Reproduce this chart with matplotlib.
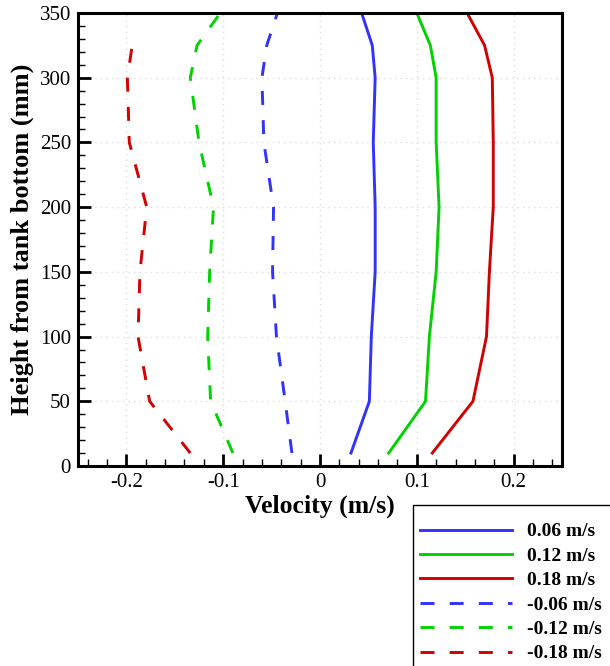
import numpy as np
import matplotlib.pyplot as plt
from matplotlib.ticker import MultipleLocator
from matplotlib.patches import Rectangle

# Heights of the measuring points (mm)
heights = [10, 50, 100, 150, 200, 250, 300, 325, 350]

# Velocity profiles (m/s)
pos_006 = [0.032, 0.051, 0.053, 0.057, 0.057, 0.055, 0.057, 0.054, 0.043]
pos_012 = [0.071, 0.109, 0.113, 0.120, 0.123, 0.120, 0.120, 0.114, 0.100]
pos_018 = [0.116, 0.158, 0.172, 0.175, 0.179, 0.179, 0.178, 0.170, 0.152]
neg_006 = [-0.029, -0.036, -0.045, -0.049, -0.048, -0.058, -0.060, -0.055, -0.044]
neg_012 = [-0.090, -0.113, -0.116, -0.114, -0.110, -0.125, -0.134, -0.127, -0.103]
neg_018 = [-0.134, -0.176, -0.188, -0.186, -0.179, -0.197, -0.199, -0.194]

labels = ["0.06 m/s", "0.12 m/s", "0.18 m/s", "-0.06 m/s", "-0.12 m/s", "-0.18 m/s"]
xtick_labels = ["-0.2", "-0.1", "0", "0.1", "0.2"]

BLUE = "#3232ff"
GREEN = "#00d200"
RED = "#d20000"

plt.rcParams['font.family'] = ['Liberation Serif', 'DejaVu Serif']

W, H = 610, 666
fig = plt.figure(figsize=(W / 100, H / 100), dpi=100)
ax = fig.add_axes([78 / W, 1 - 466 / H, 484 / W, 453 / H])

lw = 2.1
dash = (0, (4.8, 5.2))
ax.plot(pos_006, heights, color=BLUE, lw=lw, label=labels[0])
ax.plot(pos_012, heights, color=GREEN, lw=lw, label=labels[1])
ax.plot(pos_018, heights, color=RED, lw=lw, label=labels[2])
ax.plot(neg_006, heights, color=BLUE, lw=lw, ls=dash, label=labels[3])
ax.plot(neg_012, heights, color=GREEN, lw=lw, ls=dash, label=labels[4])
ax.plot(neg_018, heights[:len(neg_018)], color=RED, lw=lw, ls=dash, label=labels[5])

ax.set_xlim(-0.25, 0.25)
ax.set_ylim(0, 350)
ax.set_xticks([-0.2, -0.1, 0, 0.1, 0.2])
ax.set_xticklabels(xtick_labels)
ax.xaxis.set_minor_locator(MultipleLocator(0.02))
ax.yaxis.set_major_locator(MultipleLocator(50))
ax.yaxis.set_minor_locator(MultipleLocator(10))

ax.tick_params(which='major', direction='in', length=9, width=2, labelsize=15, pad=5)
ax.tick_params(which='minor', direction='in', length=5, width=1)
ax.tick_params(top=False, right=False, which='both')
ax.grid(True, which='major', color='#dcdcdc', ls=(0, (1, 3)), lw=1)

for s in ax.spines.values():
    s.set_linewidth(2.2)

ax.set_xlabel("Velocity (m/s)", fontsize=18.5, fontweight='bold', labelpad=2)
ax.set_ylabel("Height from tank bottom (mm)", fontsize=19, fontweight='bold', labelpad=4)

# legend frame runs off the right and bottom edges of the figure
fig.patches.append(Rectangle((413 / W, -0.05), 0.5, 1 - 505 / H + 0.05,
                             transform=fig.transFigure, fill=False,
                             edgecolor='black', lw=1.0))
handles, lbls = ax.get_legend_handles_labels()
leg = fig.legend(handles, lbls, loc='upper left', bbox_to_anchor=(412 / W, 1 - 515 / H),
                 prop={'size': 14, 'weight': 'bold'}, handlelength=4.73, handletextpad=0.77,
                 labelspacing=0.35, borderaxespad=0, frameon=False)

fig.savefig("out.png", dpi=100)
